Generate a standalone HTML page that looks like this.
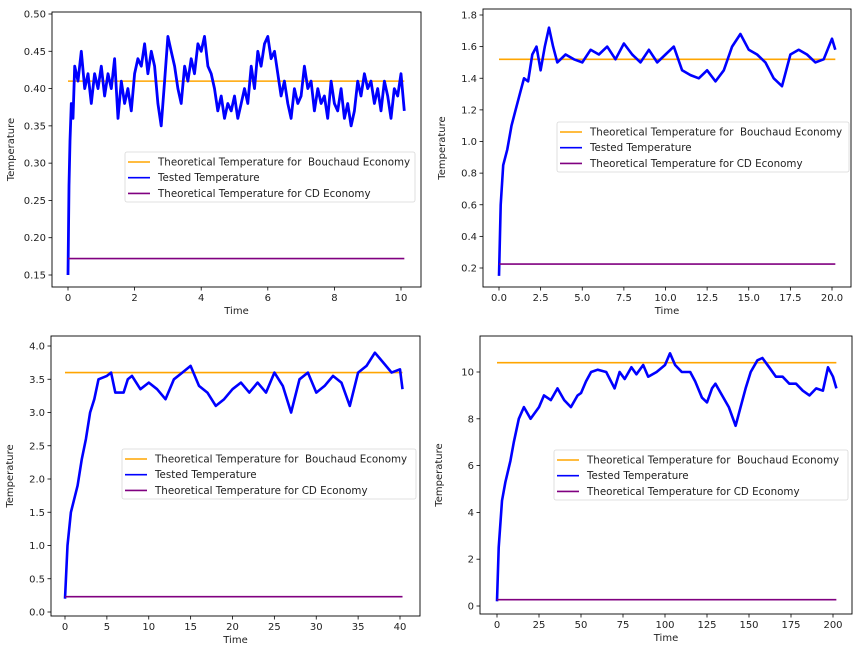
<!DOCTYPE html>
<html><head><meta charset="utf-8">
<style>
html,body{margin:0;padding:0;background:#fff;}
svg{display:block;font-family:"DejaVu Sans","Liberation Sans",sans-serif;}
</style></head>
<body>
<svg id="fig" width="855" height="645" viewBox="0 0 855 645" xmlns="http://www.w3.org/2000/svg"></svg>
<script>
// Panel 1 data
const p1Time = [0,0.03,0.06,0.1,0.15,0.2,0.3,0.4,0.5,0.6,0.7,0.8,0.9,1.0,1.1,1.2,1.3,1.4,1.5,1.6,1.7,1.8,1.9,2.0,2.1,2.2,2.3,2.4,2.5,2.6,2.7,2.8,2.9,3.0,3.1,3.2,3.3,3.4,3.5,3.6,3.7,3.8,3.9,4.0,4.1,4.2,4.3,4.4,4.5,4.6,4.7,4.8,4.9,5.0,5.1,5.2,5.3,5.4,5.5,5.6,5.7,5.8,5.9,6.0,6.1,6.2,6.3,6.4,6.5,6.6,6.7,6.8,6.9,7.0,7.1,7.2,7.3,7.4,7.5,7.6,7.7,7.8,7.9,8.0,8.1,8.2,8.3,8.4,8.5,8.6,8.7,8.8,8.9,9.0,9.1,9.2,9.3,9.4,9.5,9.6,9.7,9.8,9.9,10.0,10.1];
const p1Tested = [0.15,0.27,0.33,0.38,0.36,0.43,0.41,0.45,0.40,0.42,0.38,0.42,0.40,0.43,0.39,0.42,0.40,0.44,0.36,0.41,0.38,0.40,0.37,0.42,0.44,0.43,0.46,0.42,0.45,0.43,0.38,0.35,0.41,0.47,0.45,0.43,0.40,0.38,0.43,0.41,0.44,0.42,0.46,0.45,0.47,0.43,0.42,0.40,0.37,0.39,0.36,0.38,0.37,0.39,0.36,0.38,0.40,0.38,0.43,0.40,0.45,0.43,0.46,0.47,0.44,0.45,0.42,0.39,0.41,0.38,0.36,0.40,0.38,0.39,0.43,0.40,0.41,0.37,0.40,0.38,0.39,0.36,0.41,0.38,0.37,0.40,0.36,0.38,0.35,0.37,0.41,0.39,0.42,0.40,0.41,0.38,0.40,0.37,0.41,0.39,0.36,0.40,0.39,0.42,0.37];
const p1Bouchaud = 0.41, p1CD = 0.172;
const p1YTicks = [0.15,0.20,0.25,0.30,0.35,0.40,0.45,0.50];
const p1XTicks = [0,2,4,6,8,10];
// Panel 2 data
const p2Time = [0,0.1,0.25,0.5,0.75,1,1.25,1.5,1.75,2,2.25,2.5,2.75,3,3.25,3.5,4,4.5,5,5.5,6,6.5,7,7.5,8,8.5,9,9.5,10,10.5,11,11.5,12,12.5,13,13.5,14,14.5,15,15.5,16,16.5,17,17.5,18,18.5,19,19.5,20,20.2];
const p2Tested = [0.15,0.6,0.85,0.95,1.1,1.2,1.3,1.4,1.38,1.55,1.6,1.45,1.6,1.72,1.6,1.5,1.55,1.52,1.5,1.58,1.55,1.6,1.52,1.62,1.55,1.5,1.58,1.5,1.55,1.6,1.45,1.42,1.4,1.45,1.38,1.45,1.6,1.68,1.58,1.55,1.5,1.4,1.35,1.55,1.58,1.55,1.5,1.52,1.65,1.58];
const p2Bouchaud = 1.52, p2CD = 0.225;
const p2YTicks = [0.2,0.4,0.6,0.8,1.0,1.2,1.4,1.6,1.8];
const p2XTicks = [0,2.5,5,7.5,10,12.5,15,17.5,20];
// Panel 3 data
const p3Time = [0,0.3,0.7,1.5,2,2.5,3,3.5,4,5,5.5,6,7,7.5,8,9,10,11,12,13,14,15,16,17,18,19,20,21,22,23,24,25,26,27,28,29,30,31,32,33,34,35,36,37,38,39,40,40.3];
const p3Tested = [0.2,1.0,1.5,1.9,2.3,2.6,3.0,3.2,3.5,3.55,3.6,3.3,3.3,3.5,3.55,3.35,3.45,3.35,3.2,3.5,3.6,3.7,3.4,3.3,3.1,3.2,3.35,3.45,3.3,3.45,3.3,3.6,3.4,3.0,3.5,3.6,3.3,3.4,3.55,3.45,3.1,3.6,3.7,3.9,3.75,3.6,3.65,3.35];
const p3Bouchaud = 3.6, p3CD = 0.23;
const p3YTicks = [0.0,0.5,1.0,1.5,2.0,2.5,3.0,3.5,4.0];
const p3XTicks = [0,5,10,15,20,25,30,35,40];
// Panel 4 data
const p4Time = [0,1,3,5,8,10,13,16,20,25,28,32,36,40,44,48,50,53,56,60,65,70,73,76,80,83,87,90,95,100,103,106,110,115,118,122,125,128,130,134,138,142,145,148,151,155,158,162,166,170,174,178,182,186,190,194,197,200,202];
const p4Tested = [0.2,2.5,4.5,5.3,6.2,7.0,8.0,8.5,8.0,8.5,9.0,8.8,9.3,8.8,8.5,9.0,9.1,9.6,10.0,10.1,10.0,9.3,10.0,9.7,10.2,9.9,10.3,9.8,10.0,10.3,10.8,10.3,10.0,10.0,9.6,8.9,8.7,9.3,9.5,9.0,8.5,7.7,8.5,9.3,10.0,10.5,10.6,10.2,9.8,9.8,9.5,9.5,9.2,9.0,9.3,9.2,10.2,9.8,9.3];
const p4Bouchaud = 10.4, p4CD = 0.27;
const p4YTicks = [0,2,4,6,8,10];
const p4XTicks = [0,25,50,75,100,125,150,175,200];

const NS = "http://www.w3.org/2000/svg";
const svg = document.getElementById('fig');
function mk(tag, attrs, parent, text){
  const e = document.createElementNS(NS, tag);
  for (const k in attrs) e.setAttribute(k, attrs[k]);
  if (text !== undefined) e.textContent = text;
  (parent||svg).appendChild(e);
  return e;
}
function fmt(v, dec){ return v.toFixed(dec); }

function panel(id, box, xmap, ymap, time, tested, bou, cd, xt, yt, xdec, ydec, legend, sw){
  const g = mk('g', {}, svg);
  
  
  const sx = v => xmap[0] + (v - xmap[1]) * (xmap[2] - xmap[0]) / (xmap[3] - xmap[1]);
  const sy = v => ymap[0] + (v - ymap[1]) * (ymap[2] - ymap[0]) / (ymap[3] - ymap[1]);
  const t0 = time[0], t1 = time[time.length-1];
  const clipId = id + '-clip';
  const cp = mk('clipPath', {id: clipId}, g);
  mk('rect', {x: box.l, y: box.t, width: box.r-box.l, height: box.b-box.t}, cp);
  const plot = mk('g', {'clip-path': 'url(#'+clipId+')'}, g);
  const ob = mk('line', {x1: sx(t0), x2: sx(t1), y1: sy(bou), y2: sy(bou), stroke: '#ffa500', 'stroke-width': 1.6}, plot);
  
  
  let d = '';
  for (let i = 0; i < time.length; i++) d += (i ? 'L' : 'M') + sx(time[i]).toFixed(1) + ',' + sy(tested[i]).toFixed(1);
  const tl = mk('path', {d: d, fill: 'none', stroke: '#0000ff', 'stroke-width': sw, 'stroke-linejoin': 'round'}, plot);
  
  
  const cl = mk('line', {x1: sx(t0), x2: sx(t1), y1: sy(cd), y2: sy(cd), stroke: '#800080', 'stroke-width': 1.6}, plot);
  
  
  const fr = mk('rect', {x: box.l, y: box.t, width: box.r-box.l, height: box.b-box.t, fill: 'none', stroke: '#000', 'stroke-width': 0.9}, g);
  
  
  xt.forEach(v => {
    const x = sx(v);
    mk('line', {x1: x, x2: x, y1: box.b, y2: box.b + 3.5, stroke: '#000', 'stroke-width': 0.8}, g);
    const t = mk('text', {x: x, y: box.b + 14, 'font-size': 10, 'text-anchor': 'middle', fill: '#222'}, g, fmt(v, xdec));
    
    
  });
  yt.forEach(v => {
    const y = sy(v);
    mk('line', {x1: box.l - 3.5, x2: box.l, y1: y, y2: y, stroke: '#000', 'stroke-width': 0.8}, g);
    const t = mk('text', {x: box.l - 6, y: y + 3.5, 'font-size': 10, 'text-anchor': 'end', fill: '#222'}, g, fmt(v, ydec));
    
    
  });
  const xl = mk('text', {x: (box.l + box.r)/2, y: box.b + 27, 'font-size': 10, 'text-anchor': 'middle', fill: '#222'}, g, 'Time');
  
  
  const yx = box.l - 38, yy = (box.t + box.b)/2;
  const yl = mk('text', {x: yx, y: yy, 'font-size': 10, 'text-anchor': 'middle', fill: '#222', transform: 'rotate(-90 '+yx+' '+yy+')'}, g, 'Temperature');
  
  
  const lg = mk('g', {}, g);
  
  
  mk('rect', {x: legend.x, y: legend.y, width: legend.w, height: 50, rx: 2, fill: '#fff', 'fill-opacity': 0.85, stroke: '#d8d8d8', 'stroke-width': 0.8}, lg);
  const items = [['#ffa500','Theoretical Temperature for  Bouchaud Economy'],['#0000ff','Tested Temperature'],['#800080','Theoretical Temperature for CD Economy']];
  items.forEach((it, i) => {
    const y = legend.y + 10 + i * 15.7;
    mk('line', {x1: legend.x + 3, x2: legend.x + 25, y1: y, y2: y, stroke: it[0], 'stroke-width': 1.6}, lg);
    const t = mk('text', {x: legend.x + 33, y: y + 3.5, 'font-size': 10.3, fill: '#222', style: 'white-space:pre'}, lg, it[1]);
    
    
  });
}

panel('panel-1', {l:52,r:421,t:12,b:287}, [68,0,401,10], [275,0.15,14,0.50], p1Time, p1Tested, p1Bouchaud, p1CD, p1XTicks, p1YTicks, 0, 2, {x:125,y:152,w:290}, 2.8);
panel('panel-2', {l:483,r:851,t:9,b:287}, [499,0,832,20], [268,0.2,15,1.8], p2Time, p2Tested, p2Bouchaud, p2CD, p2XTicks, p2YTicks, 1, 1, {x:557,y:122,w:292}, 2.6);
panel('panel-3', {l:51,r:420,t:336,b:616}, [65,0,400,40], [612,0,346,4.0], p3Time, p3Tested, p3Bouchaud, p3CD, p3XTicks, p3YTicks, 0, 1, {x:122,y:449,w:294}, 2.6);
panel('panel-4', {l:480,r:852,t:336,b:614}, [497,0,833,200], [606,0,372,10], p4Time, p4Tested, p4Bouchaud, p4CD, p4XTicks, p4YTicks, 0, 0, {x:554,y:450,w:294}, 2.6);
</script>
</body></html>
